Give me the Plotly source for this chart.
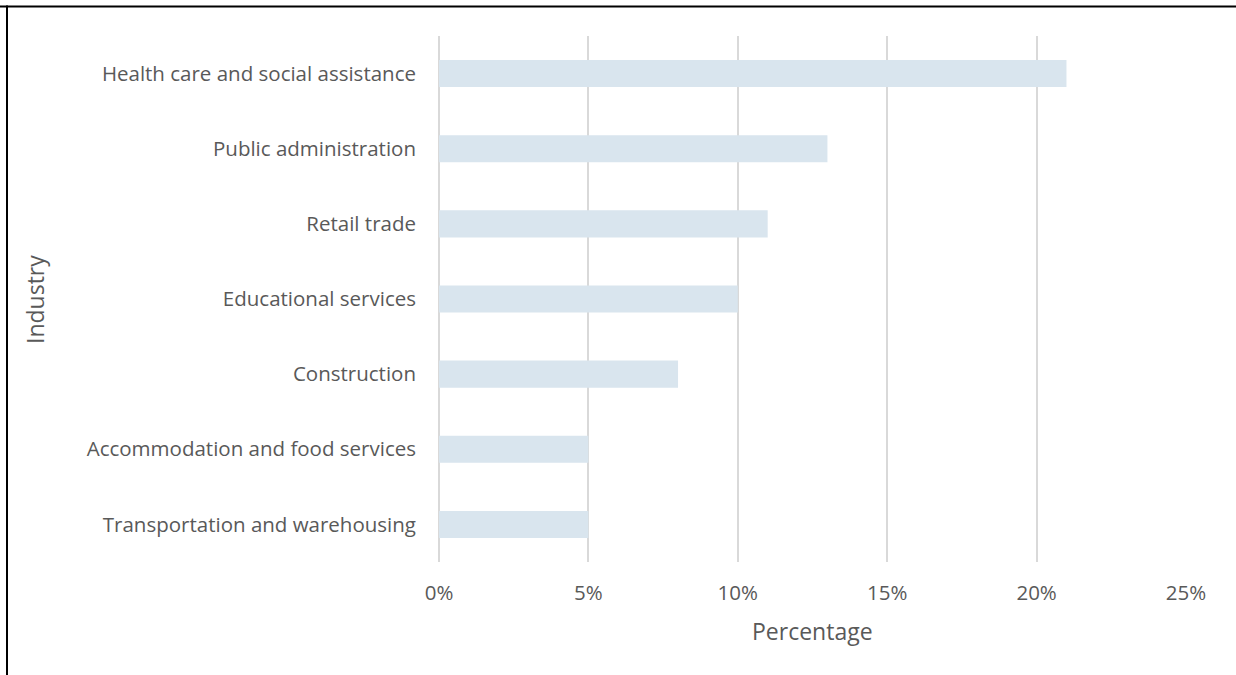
import plotly.graph_objects as go

categories = [
    "Transportation and warehousing",
    "Accommodation and food services",
    "Construction",
    "Educational services",
    "Retail trade",
    "Public administration",
    "Health care and social assistance",
]
percentages = [5, 5, 8, 10, 11, 13, 21]
tick_vals = [0, 5, 10, 15, 20, 25]
tick_text = ["0%", "5%", "10%", "15%", "20%", "25%"]

FONT = "Open Sans"
TXT = "#595959"
L, R, T, B = 439, 50, 36, 113
PW, PH = 1236 - L - R, 675 - T - B

fig = go.Figure()
fig.add_trace(go.Bar(
    y=categories, x=percentages, orientation="h",
    marker=dict(color="#D9E5EE", line=dict(width=0)),
    hoverinfo="x+y",
))

fig.update_layout(
    width=1236, height=675,
    paper_bgcolor="white", plot_bgcolor="white",
    margin=dict(l=L, r=R, t=T, b=B),
    bargap=0.64,
    showlegend=False,
    font=dict(family=FONT, color=TXT, size=20),
    xaxis=dict(
        range=[0, 25], tickvals=tick_vals, ticktext=tick_text,
        showgrid=True, gridcolor="#D9D9D9", gridwidth=2,
        zeroline=True, zerolinecolor="#D9D9D9", zerolinewidth=2,
        showline=False, ticks="", ticklen=0,
        tickfont=dict(size=20.5, color=TXT),
        ticklabelstandoff=16,
    ),
    yaxis=dict(
        showgrid=False, zeroline=False, showline=False, ticks="",
        tickfont=dict(size=20.5, color=TXT),
        ticklabelstandoff=22,
        automargin=False,
    ),
)

# axis titles
fig.add_annotation(text="Percentage", xref="paper", yref="paper",
                   x=0.5, y=-(631 - 562) / PH, showarrow=False,
                   font=dict(size=23, color=TXT), xanchor="center", yanchor="middle")
fig.add_annotation(text="Industry", xref="paper", yref="paper",
                   x=-(439 - 35) / PW, y=(562 - 300) / PH, showarrow=False, textangle=-90,
                   font=dict(size=23, color=TXT), xanchor="center", yanchor="middle")

# figure border (top and left edges visible)
fig.add_shape(type="line", xref="paper", yref="paper", x0=-L / PW, x1=(1236 - L) / PW,
              y0=1 + (T - 6.5) / PH, y1=1 + (T - 6.5) / PH, line=dict(color="black", width=2))
fig.add_shape(type="line", xref="paper", yref="paper", x0=-(L - 7) / PW, x1=-(L - 7) / PW,
              y0=-B / PH, y1=1 + (T - 5.5) / PH, line=dict(color="black", width=2))

fig.write_html("out.html", config={"displayModeBar": False},
               post_script="document.body.style.margin='0px';")
